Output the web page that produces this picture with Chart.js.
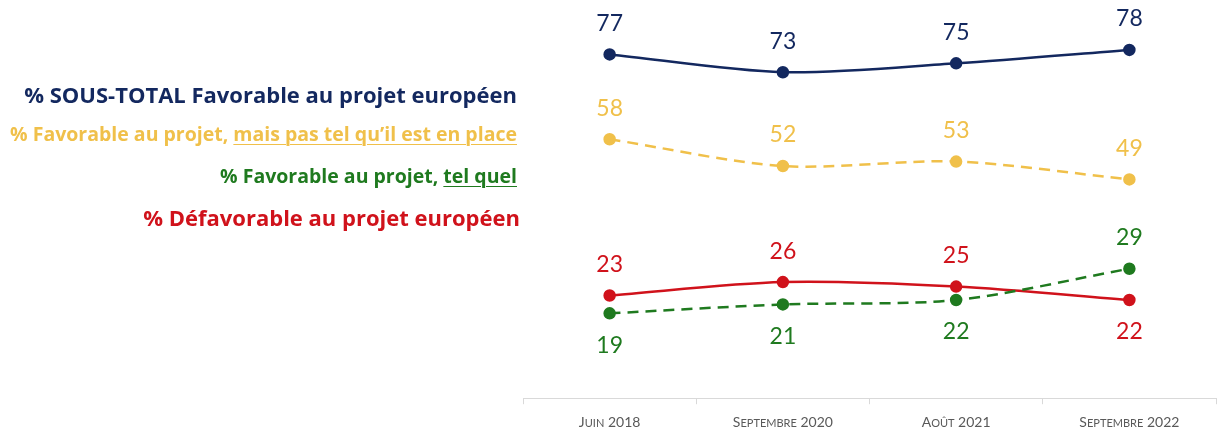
<!DOCTYPE html>
<html>
<head>
<meta charset="utf-8">
<script src="https://cdn.jsdelivr.net/npm/chart.js@4"></script>
<style>
  html, body { margin: 0; padding: 0; background: #fff; }
  #wrap { position: relative; width: 1224px; height: 446px; }
  #chart { position: absolute; left: 0; top: 0; }
  .leg { position: absolute; right: 707px; white-space: nowrap; font-family: "Open Sans", sans-serif; font-weight: bold; line-height: 1; }
  .leg u { text-decoration-thickness: 1px; text-underline-offset: 3px; text-decoration-color: currentColor; }
</style>
</head>
<body>
<div id="wrap">
  <canvas id="chart" width="1224" height="446"></canvas>
  <div class="leg" style="top:83px; font-size:22px; color:#13285f;">% SOUS-TOTAL Favorable au projet européen</div>
  <div class="leg" style="top:124px; font-size:19.5px; color:#f0c04a;">% Favorable au projet, <u>mais pas tel qu’il est en place</u></div>
  <div class="leg" style="top:166px; font-size:19.5px; color:#1f7a1f;">% Favorable au projet, <u>tel quel</u></div>
  <div class="leg" style="top:206px; font-size:22px; color:#d0121b; right:704px;">% Défavorable au projet européen</div>
</div>
<script>
// data
const periods = ['Juin 2018', 'Septembre 2020', 'Août 2021', 'Septembre 2022'];
const sousTotal = [77, 73, 75, 78];
const pasTelQuel = [58, 52, 53, 49];
const telQuel = [19, 21, 22, 29];
const defavorable = [23, 26, 25, 22];

// where each value label sits relative to its point
const labelSide = {
  sousTotal: ['up', 'up', 'up', 'up'],
  pasTelQuel: ['up', 'up', 'up', 'up'],
  telQuel: ['down', 'down', 'down', 'up'],
  defavorable: ['up', 'up', 'up', 'down'],
};

const NAVY = '#13285f';
const YELLOW = '#f0c04a';
const GREEN = '#1f7a1f';
const RED = '#d0121b';

const makeSet = (key, data, color, dashed) => ({
  key,
  data,
  borderColor: color,
  backgroundColor: color,
  pointBackgroundColor: color,
  pointBorderColor: color,
  pointRadius: 5,
  pointHoverRadius: 5,
  borderWidth: 2.5,
  borderDash: dashed ? [11, 7] : [],
  tension: 0.3,
  fill: false,
});

// draws the numbers next to the points
const valueLabels = {
  id: 'valueLabels',
  afterDatasetsDraw(chart) {
    const ctx = chart.ctx;
    ctx.save();
    ctx.font = '23px Lato, sans-serif';
    ctx.textAlign = 'center';
    ctx.textBaseline = 'middle';
    chart.data.datasets.forEach((ds, i) => {
      const meta = chart.getDatasetMeta(i);
      meta.data.forEach((pt, j) => {
        const side = labelSide[ds.key][j];
        const y = side === 'up' ? pt.y - 31 : pt.y + 32;
        ctx.fillStyle = ds.borderColor;
        ctx.fillText(String(ds.data[j]), pt.x, y);
      });
    });
    ctx.restore();
  },
};

// x labels in small caps (lower case letters drawn as smaller capitals)
const smallCapsTicks = {
  id: 'smallCapsTicks',
  afterDraw(chart) {
    const ctx = chart.ctx;
    const xs = chart.scales.x;
    const big = 14, small = 11;
    const fam = 'Lato, sans-serif';
    const y = xs.bottom - 10;
    ctx.save();
    ctx.fillStyle = '#595959';
    ctx.textBaseline = 'alphabetic';
    periods.forEach((txt, i) => {
      const parts = [...txt].map(ch => {
        const low = ch !== ch.toUpperCase();
        return { ch: ch.toUpperCase(), size: low ? small : big };
      });
      let w = 0;
      parts.forEach(p => { ctx.font = p.size + 'px ' + fam; p.w = ctx.measureText(p.ch).width; w += p.w; });
      let x = xs.getPixelForTick(i) - w / 2;
      parts.forEach(p => {
        ctx.font = p.size + 'px ' + fam;
        ctx.fillText(p.ch, x, y);
        x += p.w;
      });
    });
    ctx.restore();
  },
};

const ctx = document.getElementById('chart').getContext('2d');
new Chart(ctx, {
  type: 'line',
  data: {
    labels: periods,
    datasets: [
      makeSet('sousTotal', sousTotal, NAVY, false),
      makeSet('pasTelQuel', pasTelQuel, YELLOW, true),
      makeSet('telQuel', telQuel, GREEN, true),
      makeSet('defavorable', defavorable, RED, false),
    ],
  },
  options: {
    responsive: false,
    animation: false,
    layout: { padding: { left: 523, right: 8, top: 3, bottom: 9 } },
    plugins: {
      legend: { display: false },
      tooltip: { enabled: false },
    },
    scales: {
      x: {
        offset: true,
        grid: {
          offset: true,
          drawOnChartArea: false,
          tickLength: 6,
          color: '#d9d9d9',
        },
        border: { color: '#d9d9d9', width: 1 },
        ticks: {
          padding: 8,
          color: 'rgba(0,0,0,0)',
          font: { family: 'Lato, sans-serif', size: 14 },
        },
      },
      y: {
        display: false,
        min: 0,
        max: 87.5,
      },
    },
  },
  plugins: [valueLabels, smallCapsTicks],
});
</script>
</body>
</html>
